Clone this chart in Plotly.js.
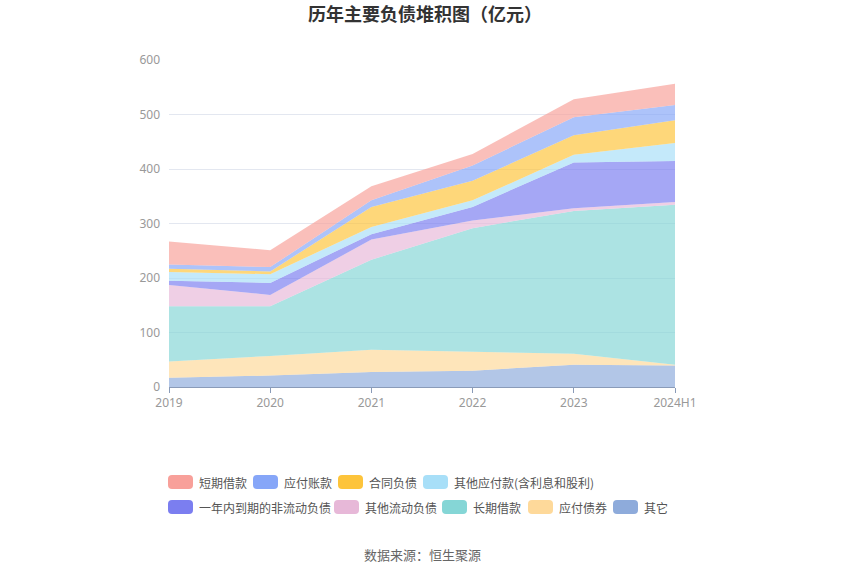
<!DOCTYPE html>
<html><head><meta charset="utf-8">
<script src="https://cdn.plot.ly/plotly-3.0.1.min.js"></script>
<style>html,body{margin:0;padding:0;background:#fff}</style>
</head><body><div id="chart" style="width:850px;height:575px"></div>
<script>
const years = ['2019','2020','2021','2022','2023','2024H1'];
const other      = [17, 21, 27.5, 30, 41, 39.6];
const bonds      = [30, 36, 41, 34.5, 20, 1];
const ltLoans    = [101, 91, 165, 227, 262, 294];
const otherCur   = [39, 21, 37, 14, 5, 5];
const dueInYear  = [8, 22, 10, 25, 84, 75];
const otherPay   = [16, 16, 13, 12, 14, 33];
const contract   = [6, 5, 37, 36, 36, 42];
const payables   = [8, 8, 12, 28, 33, 28];
const stLoans    = [42, 31, 26, 21, 33, 39];

const names = ['其它','应付债券','长期借款','其他流动负债','一年内到期的非流动负债','其他应付款(含利息和股利)','合同负债','应付账款','短期借款'];
const series = [other, bonds, ltLoans, otherCur, dueInYear, otherPay, contract, payables, stLoans];
const colors = ['#8eabdb','#fed99a','#85d6d6','#e7b8d8','#7b7ef0','#a8dff8','#fdc43b','#86a6f8','#f8a09a'];

function rgba(hex,a){const n=parseInt(hex.slice(1),16);return `rgba(${n>>16},${(n>>8)&255},${n&255},${a})`;}

const traces = series.map((s,i)=>({
  x: years, y: s, name: names[i], type:'scatter', mode:'none',
  stackgroup:'one', fillcolor: rgba(colors[i],0.68), showlegend:false,
  hoverinfo:'x+y+name'
}));

// manual legend (layout only): order and placement as in the reference
const L = 169, R = 675, T = 60, B = 387;
const px2x = p => (p - L) / (R - L);
const px2y = p => (B - p) / (B - T);
const legendOrder = [8,7,6,5,4,3,2,1,0];
const legSwatchX = [168,253,338,423,168,334,442,528,613];
const legRowY = [482,482,482,482,507,507,507,507,507];

function roundRect(x0,y0,x1,y1,r){
  const X=px2x, Y=px2y;
  return `M${X(x0+r)},${Y(y0)} L${X(x1-r)},${Y(y0)} Q${X(x1)},${Y(y0)} ${X(x1)},${Y(y0+r)} `+
         `L${X(x1)},${Y(y1-r)} Q${X(x1)},${Y(y1)} ${X(x1-r)},${Y(y1)} L${X(x0+r)},${Y(y1)} `+
         `Q${X(x0)},${Y(y1)} ${X(x0)},${Y(y1-r)} L${X(x0)},${Y(y0+r)} Q${X(x0)},${Y(y0)} ${X(x0+r)},${Y(y0)} Z`;
}
const shapes = [], annotations = [];
legendOrder.forEach((ti,k)=>{
  const sx = legSwatchX[k], cy = legRowY[k];
  shapes.push({type:'path', xref:'paper', yref:'paper', path: roundRect(sx, cy-7, sx+25, cy+7, 4),
    fillcolor: colors[ti], line:{width:0}, layer:'above'});
  annotations.push({text: names[ti], xref:'paper', yref:'paper', x: px2x(sx+29), y: px2y(cy),
    xanchor:'left', yanchor:'middle', showarrow:false,
    font:{family:'"Noto Sans CJK SC","Noto Sans",sans-serif', size:12, color:'#555'}});
});
annotations.push({text:'数据来源：恒生聚源', xref:'paper', yref:'paper', x:0.5, y:px2y(554), xanchor:'center', yanchor:'middle',
  showarrow:false, font:{family:'"Noto Sans CJK SC",sans-serif', size:13, color:'#666'}});

const layout = {
  width:850, height:575,
  margin:{l:L, r:850-R, t:T, b:575-B},
  paper_bgcolor:'#fff', plot_bgcolor:'#fff',
  title:{text:'历年主要负债堆积图（亿元）', x:0.5, xanchor:'center', y:0.975, yanchor:'middle',
    font:{family:'"Noto Sans CJK SC",sans-serif', size:18, color:'#333', weight:'bold'}},
  xaxis:{type:'category', range:[0,5], showgrid:false, showline:true, linecolor:'#8a9bb8', linewidth:1,
    ticks:'outside', ticklen:5, tickcolor:'#8a9bb8', tickfont:{family:'"Noto Sans",sans-serif', size:12, color:'#999'},
    zeroline:false},
  yaxis:{range:[0,600], dtick:100, showgrid:true, gridcolor:'#e3e7f0', gridwidth:1, zeroline:false,
    showline:false, ticks:'', tickfont:{family:'"Noto Sans",sans-serif', size:12, color:'#999'}, ticklabelstandoff:8},
  showlegend:false,
  shapes: shapes,
  annotations: annotations
};
Plotly.newPlot('chart', traces, layout, {displayModeBar:false, staticPlot:true});
</script></body></html>
